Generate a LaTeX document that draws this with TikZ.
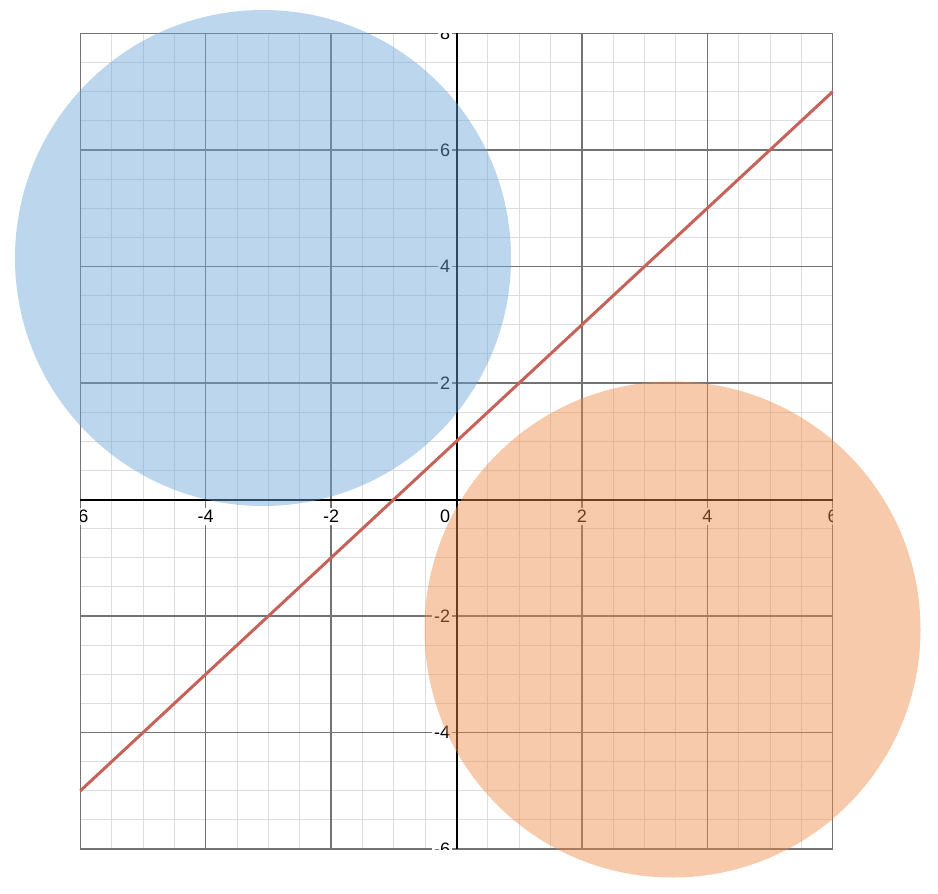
\documentclass[tikz,border=0pt]{standalone}
\usepackage{fontspec}
\setmainfont{Liberation Sans}
\definecolor{circblue}{RGB}{104,164,215}
\definecolor{circorange}{RGB}{237,137,68}
\definecolor{linered}{RGB}{199,98,90}
\definecolor{minorgrid}{RGB}{222,222,222}
\definecolor{majorgrid}{RGB}{115,115,115}
\begin{document}
\begin{tikzpicture}[x=0.5pt,y=-0.5pt,
  minorline/.style={minorgrid, line width=0.5pt},
  majorline/.style={majorgrid, line width=0.65pt},
  axisline/.style={black, line width=1pt},
  redline/.style={linered, line width=1.5pt},
  ticklabel/.style={font=\fontsize{9}{10}\selectfont, fill=white, inner sep=1pt},
  disc/.style={opacity=0.45}]
\useasboundingbox (0,0) rectangle (938,894);
\begin{scope}[shift={(456.5,499.5)}, x=31.35pt, y=29.13pt]
  \foreach \i in {-6,-5.5,...,6} \draw[minorline] (\i,-6) -- (\i,8);
  \foreach \j in {-6,-5.5,...,8} \draw[minorline] (-6,\j) -- (6,\j);
  \foreach \i in {-6,-4,...,6} \draw[majorline] (\i,-6) -- (\i,8);
  \foreach \j in {-6,-4,...,8} \draw[majorline] (-6,\j) -- (6,\j);
  \begin{scope}
    \clip (-6,-6) rectangle (6,8);
    \foreach \i in {-6,-4,-2,2,4,6}
      \node[ticklabel, anchor=base, yshift=-11.5pt] (xl\i) at (\i,0) {\i};
    \node[ticklabel, anchor=base east, xshift=-2pt, yshift=-11.5pt] (xl0) at (0,0) {0};
    \foreach \j in {-6,-4,-2,2,4,6,8}
      \node[ticklabel, anchor=east, xshift=-2pt] (yl\j) at (0,\j) {\j};
  \end{scope}
  \coordinate (xa1) at (-6,0); \coordinate (xa2) at (6,0);
  \coordinate (ya1) at (0,-6); \coordinate (ya2) at (0,8);
  \draw[axisline] (xa1) -- (xa2);
  \draw[axisline] (ya1) -- (ya2);
  \coordinate (L1) at (-6,-5); \coordinate (L2) at (6,7);
  \draw[redline] (L1) -- (L2);
\end{scope}
\fill[circblue, disc] (263,258) circle[radius=248];
\fill[circorange, disc] (672.5,629.5) circle[radius=248];
\end{tikzpicture}
\end{document}
